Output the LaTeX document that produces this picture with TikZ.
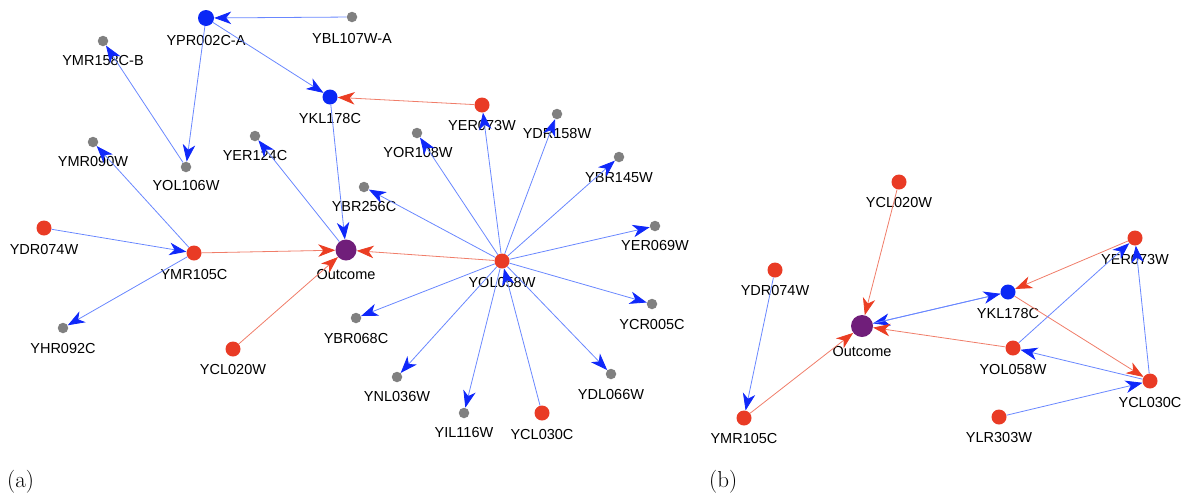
\documentclass[tikz,border=0pt]{standalone}
\usepackage{fontspec}
\newfontfamily\arialf{Liberation Sans}
\usetikzlibrary{arrows.meta}
\definecolor{rcol}{RGB}{233,59,37}
\definecolor{bcol}{RGB}{10,40,245}
\definecolor{gcol}{RGB}{128,128,128}
\definecolor{pcol}{RGB}{112,30,122}
\definecolor{bline}{RGB}{105,135,255}
\definecolor{rline}{RGB}{240,125,105}
\definecolor{barr}{RGB}{15,40,250}
\definecolor{rarr}{RGB}{235,62,35}
\tikzset{
  gn/.style={circle, fill=gcol, minimum size=10.5pt, inner sep=0pt},
  rn/.style={circle, fill=rcol, minimum size=15pt, inner sep=0pt},
  bn/.style={circle, fill=bcol, minimum size=15pt, inner sep=0pt},
  pn/.style={circle, fill=pcol, minimum size=21pt, inner sep=0pt},
  lb/.style={font=\arialf\fontsize{14.5}{14.5}\selectfont, inner sep=0pt, text height=10.4pt, text depth=0pt},
  pl/.style={font=\fontsize{23}{23}\selectfont, inner sep=0pt, anchor=base west},
  be/.style={draw=bline, line width=0.8pt, -{Stealth[length=17pt,width=12.5pt,inset=5pt,color=barr]}},
  re/.style={draw=rline, line width=0.8pt, -{Stealth[length=17pt,width=12.5pt,inset=5pt,color=rarr]}},
}
\begin{document}
\begin{tikzpicture}[x=1pt,y=-1pt]
\useasboundingbox (0,0) rectangle (1188,496);
% ---------------- panel (a) ----------------
\node[bn, minimum size=16pt] (a-ypr) at (206,18) {};
\node[lb] (a-ypr-t) at (206,40) {YPR002C-A};
\node[gn] (a-ybl) at (352,17) {};
\node[lb] (a-ybl-t) at (352,38) {YBL107W-A};
\node[gn] (a-ymr158) at (103,41) {};
\node[lb] (a-ymr158-t) at (103,60) {YMR158C-B};
\node[bn] (a-ykl) at (330,97) {};
\node[lb] (a-ykl-t) at (330,118) {YKL178C};
\node[rn] (a-yer073) at (482,105) {};
\node[lb] (a-yer073-t) at (482,125) {YER073W};
\node[gn] (a-yor108) at (417,133) {};
\node[lb] (a-yor108-t) at (418,152) {YOR108W};
\node[gn] (a-ydr158) at (557,114) {};
\node[lb] (a-ydr158-t) at (557,133) {YDR158W};
\node[gn] (a-ybr145) at (619,157) {};
\node[lb] (a-ybr145-t) at (619,177) {YBR145W};
\node[gn] (a-yer124) at (255,136) {};
\node[lb] (a-yer124-t) at (255,155) {YER124C};
\node[gn] (a-ymr090) at (93,142) {};
\node[lb] (a-ymr090-t) at (93,161) {YMR090W};
\node[gn] (a-yol106) at (186,167) {};
\node[lb] (a-yol106-t) at (186,185) {YOL106W};
\node[gn] (a-ybr256) at (364,187) {};
\node[lb] (a-ybr256-t) at (364,206) {YBR256C};
\node[gn] (a-yer069) at (655,226) {};
\node[lb] (a-yer069-t) at (655,245) {YER069W};
\node[pn] (a-out) at (346,250) {};
\node[lb] (a-out-t) at (346,274) {Outcome};
\node[rn] (a-yol058) at (502,261) {};
\node[lb] (a-yol058-t) at (502,282) {YOL058W};
\node[rn] (a-ydr074) at (44,228) {};
\node[lb] (a-ydr074-t) at (44,249) {YDR074W};
\node[rn] (a-ymr105) at (194,253) {};
\node[lb] (a-ymr105-t) at (194,274) {YMR105C};
\node[gn] (a-yhr092) at (63,328) {};
\node[lb] (a-yhr092-t) at (63,348) {YHR092C};
\node[rn] (a-ycl020) at (233,349) {};
\node[lb] (a-ycl020-t) at (233,369) {YCL020W};
\node[gn] (a-ybr068) at (356,318) {};
\node[lb] (a-ybr068-t) at (356,338) {YBR068C};
\node[gn] (a-ycr005) at (652,304) {};
\node[lb] (a-ycr005-t) at (652,324) {YCR005C};
\node[gn] (a-ynl036) at (397,377) {};
\node[lb] (a-ynl036-t) at (397,396) {YNL036W};
\node[gn] (a-yil116) at (464,413) {};
\node[lb] (a-yil116-t) at (464,432) {YIL116W};
\node[rn] (a-ycl030) at (542,413) {};
\node[lb] (a-ycl030-t) at (542,434) {YCL030C};
\node[gn] (a-ydl066) at (611,374) {};
\node[lb] (a-ydl066-t) at (611,394) {YDL066W};
\node[pl] (a-cap) at (7,487) {(a)};
% edges (a)
\draw[be] (a-ybl) -- (a-ypr);
\draw[be] (a-ypr) -- (a-ykl);
\draw[be] (a-ypr) -- (a-yol106);
\draw[be] (a-yol106) -- (a-ymr158);
\draw[re] (a-yer073) -- (a-ykl);
\draw[be] (a-ykl) -- (a-out);
\draw[be] (a-out) -- (a-yer124);
\draw[be] (a-ymr105) -- (a-ymr090);
\draw[be] (a-ydr074) -- (a-ymr105);
\draw[be] (a-ymr105) -- (a-yhr092);
\draw[re] (a-ymr105) -- (a-out);
\draw[re] (a-ycl020) -- (a-out);
\draw[re] (a-yol058) -- (a-out);
\draw[be] (a-yol058) -- (a-yer073);
\draw[be] (a-yol058) -- (a-yor108);
\draw[be] (a-yol058) -- (a-ydr158);
\draw[be] (a-yol058) -- (a-ybr145);
\draw[be] (a-yol058) -- (a-yer069);
\draw[be] (a-yol058) -- (a-ybr256);
\draw[be] (a-yol058) -- (a-ycr005);
\draw[be] (a-yol058) -- (a-ybr068);
\draw[be] (a-yol058) -- (a-ynl036);
\draw[be] (a-yol058) -- (a-yil116);
\draw[be] (a-yol058) -- (a-ydl066);
\draw[be] (a-ycl030) -- (a-yol058);
% ---------------- panel (b) ----------------
\node[rn] (b-ycl020) at (899,182) {};
\node[lb] (b-ycl020-t) at (899,202) {YCL020W};
\node[rn] (b-ydr074) at (775,270) {};
\node[lb] (b-ydr074-t) at (775,290) {YDR074W};
\node[pn, minimum size=22pt] (b-out) at (862,326) {};
\node[lb] (b-out-t) at (862,351) {Outcome};
\node[bn] (b-ykl) at (1008,292) {};
\node[lb] (b-ykl-t) at (1008,313) {YKL178C};
\node[rn] (b-yer073) at (1135,238) {};
\node[lb] (b-yer073-t) at (1135,259) {YER073W};
\node[rn] (b-yol058) at (1013,348) {};
\node[lb] (b-yol058-t) at (1013,369) {YOL058W};
\node[rn] (b-ycl030) at (1150,381) {};
\node[lb] (b-ycl030-t) at (1150,402) {YCL030C};
\node[rn] (b-ymr105) at (744,418) {};
\node[lb] (b-ymr105-t) at (744,438) {YMR105C};
\node[rn] (b-ylr303) at (999,417) {};
\node[lb] (b-ylr303-t) at (999,437) {YLR303W};
\node[pl] (b-cap) at (709,487) {(b)};
% edges (b)
\draw[re] (b-ycl020) -- (b-out);
\draw[be] (b-ydr074) -- (b-ymr105);
\draw[re] (b-ymr105) -- (b-out);
\draw[be] (b-ykl) -- (b-out);
\draw[be] (b-out) -- (b-ykl);
\draw[re] (b-yol058) -- (b-out);
\draw[re] (b-yer073) -- (b-ykl);
\draw[re] (b-ykl) -- (b-ycl030);
\draw[be] (b-yol058) -- (b-yer073);
\draw[be] (b-ycl030) -- (b-yer073);
\draw[be] (b-ycl030) -- (b-yol058);
\draw[be] (b-ylr303) -- (b-ycl030);
\end{tikzpicture}
\end{document}
